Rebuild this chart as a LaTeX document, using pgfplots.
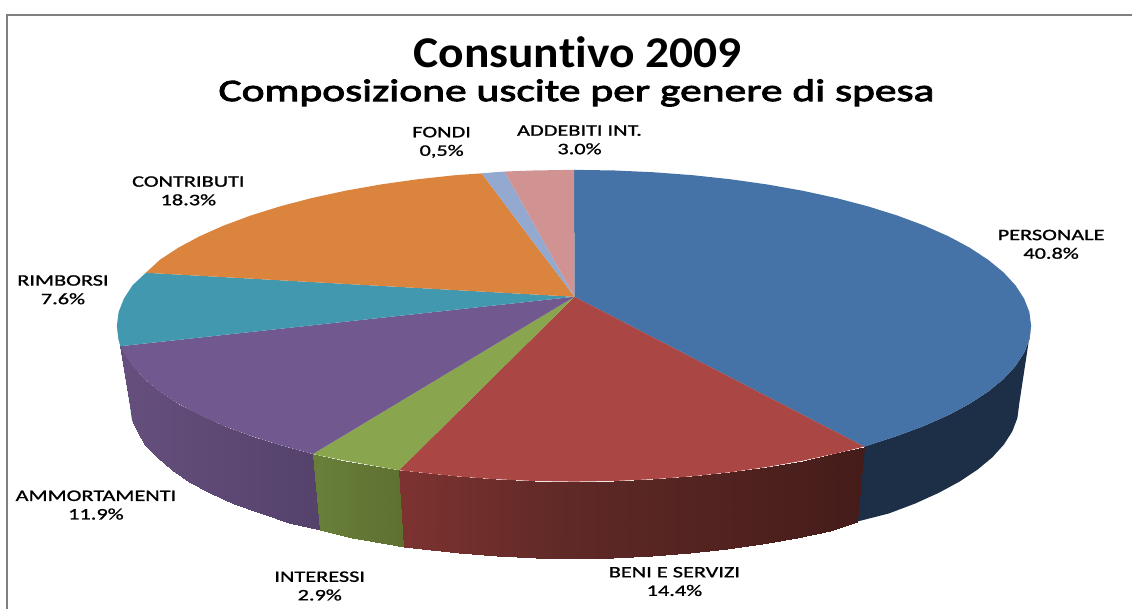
\documentclass[border=0pt]{standalone}
\usepackage{fontspec}
\usepackage{pgfplots}
\pgfplotsset{compat=1.18}
\setmainfont[Ligatures=NoCommon]{Carlito}
\newfontfamily\titlefont[FakeStretch=1.08,Ligatures=NoCommon]{Carlito}
\newfontfamily\labelfont[FakeStretch=1.395,Ligatures=NoCommon,FakeBold=1.2]{Carlito}
\newfontfamily\subfont[FakeStretch=1.39,Ligatures=NoCommon,FakeBold=3]{Carlito}

\definecolor{blueT}{HTML}{4572A7}
\definecolor{redT}{HTML}{AA4643}
\definecolor{greenT}{HTML}{89A54E}
\definecolor{purpleT}{HTML}{71588F}
\definecolor{tealT}{HTML}{4198AF}
\definecolor{orangeT}{HTML}{DB843D}
\definecolor{fondiT}{HTML}{93A9CF}
\definecolor{pinkT}{HTML}{D19392}
\definecolor{blueS}{HTML}{1C2F46}
\definecolor{tealS}{HTML}{3A8CA0}

\pgfplotsset{
  slice/.style={draw=none,forget plot},
  side/.style={patch,patch type=rectangle,shader=interp,forget plot,point meta=x,point meta rel=per plot},
}

\newcommand{\lab}[3]{\node[align=center,font=\labelfont\fontsize{12}{13.9}\selectfont,inner sep=0pt] at (axis cs:#1,#2) {#3};}

\begin{document}
\begin{tikzpicture}
\begin{axis}[hide axis,scale only axis,width=849.75pt,height=457.5pt,
  xmin=0,xmax=1133,ymin=0,ymax=610,y dir=reverse,clip=false]

% keep the whole page in the bounding box
\path (axis cs:0,0) rectangle (axis cs:1133,610);

% frame
\addplot[slice,draw=gray,line width=1.5pt] coordinates {(7.5,610) (7.5,15) (1133,15)};

% outer wall
\addplot[slice,fill=blueS] coordinates {(1032,326) (1030.3,339.6) (1025,353.1) (1016.4,366.4) (1004.4,379.4) (989.1,391.9) (970.7,404) (949.3,415.5) (924.9,426.3) (898,436.3) (865,447)
 (858,522) (889.7,513.9) (915.9,504) (939.5,493.3) (960.4,482) (978.3,470.1) (993.2,457.7) (1004.8,444.9) (1013.2,431.7) (1018.3,418.4) (1020,405)} -- cycle;
\addplot[slice,fill=tealS] coordinates {(120.5,346.5) (118.7,339.6) (117,326) (130,405) (131.7,418.4) (133.3,423.8)} -- cycle;

\addplot[side,colormap={pur}{rgb=(.40,.31,.49) rgb=(.33,.26,.42)}] table[row sep=\\] {
120.5 346.5\\124 353.1\\136.8 431.7\\133.3 423.8\\
124 353.1\\132.6 366.4\\145.2 444.9\\136.8 431.7\\
132.6 366.4\\144.6 379.4\\156.8 457.7\\145.2 444.9\\
144.6 379.4\\159.9 391.9\\171.7 470.1\\156.8 457.7\\
159.9 391.9\\178.3 404\\189.6 482\\171.7 470.1\\
178.3 404\\199.7 415.5\\210.5 493.3\\189.6 482\\
199.7 415.5\\224.1 426.3\\234.1 504\\210.5 493.3\\
224.1 426.3\\251 436.3\\260.3 513.9\\234.1 504\\
251 436.3\\280.4 445.5\\289 523\\260.3 513.9\\
280.4 445.5\\313 454.5\\320 530\\289 523\\
};
\addplot[side,colormap={gre}{rgb=(.41,.50,.23) rgb=(.37,.44,.19)}] table[row sep=\\] {
313 454.5\\345.7 461.1\\352.5 538.4\\320 530\\
345.7 461.1\\381.2 467.4\\386.9 544.6\\352.5 538.4\\
381.2 467.4\\399.4 470.7\\404.5 547.3\\386.9 544.6\\
};
\addplot[side,colormap={rd}{rgb(0pt)=(.49,.20,.19) rgb(175pt)=(.37,.16,.15) rgb(465pt)=(.27,.11,.10)}] table[row sep=\\] {
399.4 470.7\\418 472.6\\422.8 549.7\\404.5 547.3\\
418 472.6\\456.1 476.7\\459.8 553.7\\422.8 549.7\\
456.1 476.7\\495.1 479.6\\497.7 556.7\\459.8 553.7\\
495.1 479.6\\534.6 481.4\\536.2 558.4\\497.7 556.7\\
534.6 481.4\\574.5 482\\575 559\\536.2 558.4\\
574.5 482\\614.4 481.4\\613.8 558.4\\575 559\\
614.4 481.4\\653.9 479.6\\652.3 556.7\\613.8 558.4\\
653.9 479.6\\692.9 476.7\\690.2 553.7\\652.3 556.7\\
692.9 476.7\\731 472.6\\727.2 549.7\\690.2 553.7\\
731 472.6\\767.8 467.4\\763.1 544.6\\727.2 549.7\\
767.8 467.4\\803.3 461.1\\797.5 538.4\\763.1 544.6\\
803.3 461.1\\836.9 453.8\\830.3 531.2\\797.5 538.4\\
836.9 453.8\\865 447\\858 522\\830.3 531.2\\
};

% top face
\addplot[slice,fill=blueT] coordinates {(575,297) (574.5,170) (614.4,170.6) (653.9,172.4) (692.9,175.3) (731,179.4) (767.8,184.6) (803.3,190.9) (836.9,198.2) (868.6,206.5) (898,215.7) (924.9,225.7) (949.3,236.5) (970.7,248) (989.1,260.1) (1004.4,272.6) (1016.4,285.6) (1025,298.9) (1030.3,312.4) (1032,326) (1030.3,339.6) (1025,353.1) (1016.4,366.4) (1004.4,379.4) (989.1,391.9) (970.7,404) (949.3,415.5) (924.9,426.3) (898,436.3) (865,447)} -- cycle;
\addplot[slice,fill=redT] coordinates {(575,297) (865,447) (836.9,453.8) (803.3,461.1) (767.8,467.4) (731,472.6) (692.9,476.7) (653.9,479.6) (614.4,481.4) (574.5,482) (534.6,481.4) (495.1,479.6) (456.1,476.7) (418,472.6) (399.4,470.7)} -- cycle;
\addplot[slice,fill=greenT] coordinates {(575,297) (399.4,470.7) (381.2,467.4) (345.7,461.1) (313,454.5)} -- cycle;
\addplot[slice,fill=purpleT] coordinates {(575,297) (313,454.5) (280.4,445.5) (251,436.3) (224.1,426.3) (199.7,415.5) (178.3,404) (159.9,391.9) (144.6,379.4) (132.6,366.4) (124,353.1) (120.5,346.5)} -- cycle;
\addplot[slice,fill=tealT] coordinates {(575,297) (120.5,346.5) (118.7,339.6) (117,326) (118.7,312.4) (124,298.9) (132.6,285.6) (146,273)} -- cycle;
\addplot[slice,fill=orangeT] coordinates {(575,297) (146,273) (159.9,260.1) (178.3,248) (199.7,236.5) (224.1,225.7) (251,215.7) (280.4,206.5) (312.1,198.2) (345.7,190.9) (381.2,184.6) (418,179.4) (456.1,175.3) (482,173.5)} -- cycle;
\addplot[slice,fill=fondiT] coordinates {(575,297) (482,173.5) (495.1,172.4) (505,171.7)} -- cycle;
\addplot[slice,fill=pinkT] coordinates {(575,297) (505,171.7) (534.6,170.6) (574.5,170)} -- cycle;

% titles
\node[font=\titlefont\fontsize{33}{36}\selectfont\bfseries,inner sep=0pt] at (axis cs:578,52) {Consuntivo 2009};
\node[font=\subfont\fontsize{23.5}{26}\selectfont,inner sep=0pt] at (axis cs:577,93) {Composizione uscite per genere di spesa};

% data labels
\lab{1052}{244.5}{PERSONALE\\40.8\%}
\lab{675}{582}{BENI E SERVIZI\\14.4\%}
\lab{320}{586.5}{INTERESSI\\2.9\%}
\lab{96}{505.5}{AMMORTAMENTI\\11.9\%}
\lab{63}{290}{RIMBORSI\\7.6\%}
\lab{188.5}{191}{CONTRIBUTI\\18.3\%}
\lab{442}{142.5}{FONDI\\0,5\%}
\lab{580}{140}{ADDEBITI INT.\\3.0\%}
\end{axis}
\end{tikzpicture}
\end{document}
